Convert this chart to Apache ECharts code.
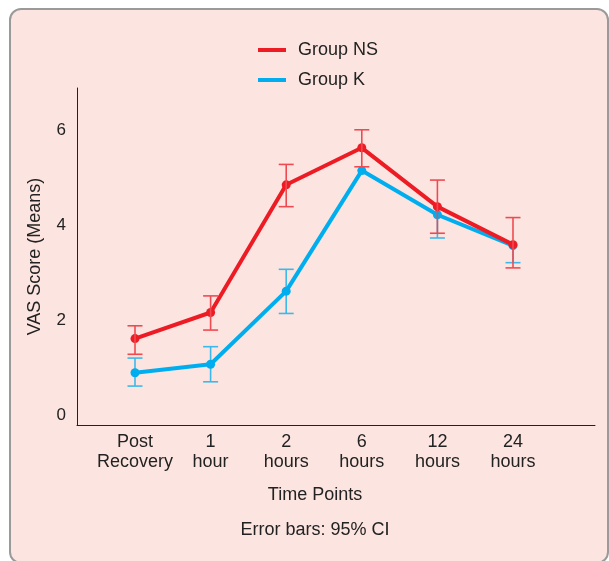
<!DOCTYPE html>
<html>
<head>
<meta charset="utf-8">
<script src="https://cdn.jsdelivr.net/npm/echarts@6/dist/echarts.min.js"></script>
<style>
  html, body { margin: 0; padding: 0; background: #ffffff; width: 609px; height: 561px; overflow: hidden; }
  #panel { position: absolute; left: 9px; top: 8px; width: 600px; height: 556px; box-sizing: border-box;
           border: 2px solid #9a9a9a; border-radius: 12px; background: #fce5e0; }
  #chart { position: absolute; left: 0; top: 0; width: 609px; height: 561px; }
</style>
</head>
<body>
<div id="panel"></div>
<div id="chart"></div>
<script>
const categories = ['Post\nRecovery', '1\nhour', '2\nhours', '6\nhours', '12\nhours', '24\nhours'];
const nsMean = [1.62, 2.17, 4.86, 5.64, 4.40, 3.60];
const nsLow  = [1.29, 1.80, 4.40, 5.24, 3.84, 3.11];
const nsHigh = [1.89, 2.52, 5.29, 6.02, 4.96, 4.17];
const kMean  = [0.90, 1.08, 2.62, 5.16, 4.23, 3.58];
const kLow   = [0.62, 0.71, 2.15, null, 3.74, 3.22];
const kHigh  = [1.21, 1.45, 3.08, null, null, null];
const yTicks = [0, 2, 4, 6];

const RED = '#ed1c24', BLUE = '#00aeef';
const RED_ERR = '#ef4a52', BLUE_ERR = '#3db8ea';

function errData(mean, low, high) {
  const out = [];
  for (let i = 0; i < mean.length; i++) {
    if (low[i] == null && high[i] == null) continue;
    out.push([i, mean[i], low[i] == null ? '-' : low[i], high[i] == null ? '-' : high[i]]);
  }
  return out;
}
function errRender(color) {
  return function (params, api) {
    const x = api.value(0);
    const m = api.value(1), l = api.value(2), h = api.value(3);
    const hasL = !isNaN(l) && l !== '-', hasH = !isNaN(h) && h !== '-';
    const lo = api.coord([x, hasL ? l : m]);
    const hi = api.coord([x, hasH ? h : m]);
    const hw = 7.5;
    const style = { stroke: color, lineWidth: 1.6 };
    const children = [
      { type: 'line', shape: { x1: lo[0], y1: lo[1], x2: hi[0], y2: hi[1] }, style: style }
    ];
    if (hasL) children.push({ type: 'line', shape: { x1: lo[0] - hw, y1: lo[1], x2: lo[0] + hw, y2: lo[1] }, style: style });
    if (hasH) children.push({ type: 'line', shape: { x1: hi[0] - hw, y1: hi[1], x2: hi[0] + hw, y2: hi[1] }, style: style });
    return { type: 'group', children: children };
  };
}

const chart = echarts.init(document.getElementById('chart'), null, { renderer: 'canvas' });
const font = 'Liberation Sans, Arial, Helvetica, sans-serif';
const option = {
  backgroundColor: 'transparent',
  animation: false,
  textStyle: { fontFamily: font },
  title: [
    { text: 'Time Points', left: 310, top: 481, textAlign: 'center',
      textStyle: { fontSize: 18, fontWeight: 'normal', color: '#222', fontFamily: font } },
    { text: 'Error bars: 95% CI', left: 310, top: 516, textAlign: 'center',
      textStyle: { fontSize: 18, fontWeight: 'normal', color: '#222', fontFamily: font } }
  ],
  legend: {
    data: ['Group NS', 'Group K'],
    orient: 'vertical',
    left: 253, top: 36,
    icon: 'rect',
    itemWidth: 28, itemHeight: 4,
    itemGap: 12,
    textStyle: { fontSize: 18, color: '#222', fontFamily: font, padding: [0, 0, 0, 7] }
  },
  grid: [
    { left: 97.2, right: 58.2, top: 88, bottom: 136 },
    { left: 77, right: 14, top: 88, bottom: 136 }
  ],
  xAxis: [
    { type: 'category', gridIndex: 0, data: categories, boundaryGap: true,
      axisLine: { show: false }, axisTick: { show: false }, splitLine: { show: false },
      axisLabel: { fontSize: 18, lineHeight: 20, color: '#222', margin: 7, interval: 0, fontFamily: font } },
    { type: 'value', gridIndex: 1, min: 0, max: 1,
      axisLine: { show: true, onZero: false, lineStyle: { color: '#222', width: 1 } },
      axisTick: { show: false }, axisLabel: { show: false }, splitLine: { show: false } }
  ],
  yAxis: [
    { type: 'value', gridIndex: 0, min: -0.2, max: 6.9, show: false, splitLine: { show: false } },
    { type: 'value', gridIndex: 1, min: -0.2, max: 6.9,
      name: 'VAS Score (Means)', nameLocation: 'middle', nameGap: 33, nameRotate: 90,
      nameTextStyle: { fontSize: 18, color: '#222', fontFamily: font },
      axisLine: { show: true, onZero: false, lineStyle: { color: '#222', width: 1 } },
      axisTick: { show: false }, splitLine: { show: false },
      axisLabel: { fontSize: 17, color: '#222', margin: 11, fontFamily: font,
        formatter: function (v) {
          const r = Math.round(v);
          return (Math.abs(v - r) < 1e-6 && yTicks.indexOf(r) >= 0) ? String(r) : '';
        } } }
  ],
  series: [
    { name: 'Group K', type: 'line', xAxisIndex: 0, yAxisIndex: 0, data: kMean,
      symbol: 'circle', symbolSize: 9, lineStyle: { color: BLUE, width: 4 },
      itemStyle: { color: BLUE }, z: 2 },
    { name: 'K CI', type: 'custom', xAxisIndex: 0, yAxisIndex: 0, data: errData(kMean, kLow, kHigh),
      renderItem: errRender(BLUE_ERR), itemStyle: { color: BLUE_ERR }, z: 1 },
    { name: 'Group NS', type: 'line', xAxisIndex: 0, yAxisIndex: 0, data: nsMean,
      symbol: 'circle', symbolSize: 9, lineStyle: { color: RED, width: 4 },
      itemStyle: { color: RED }, z: 4 },
    { name: 'NS CI', type: 'custom', xAxisIndex: 0, yAxisIndex: 0, data: errData(nsMean, nsLow, nsHigh),
      renderItem: errRender(RED_ERR), itemStyle: { color: RED_ERR }, z: 5 }
  ]
};
chart.setOption(option);
</script>
</body>
</html>
